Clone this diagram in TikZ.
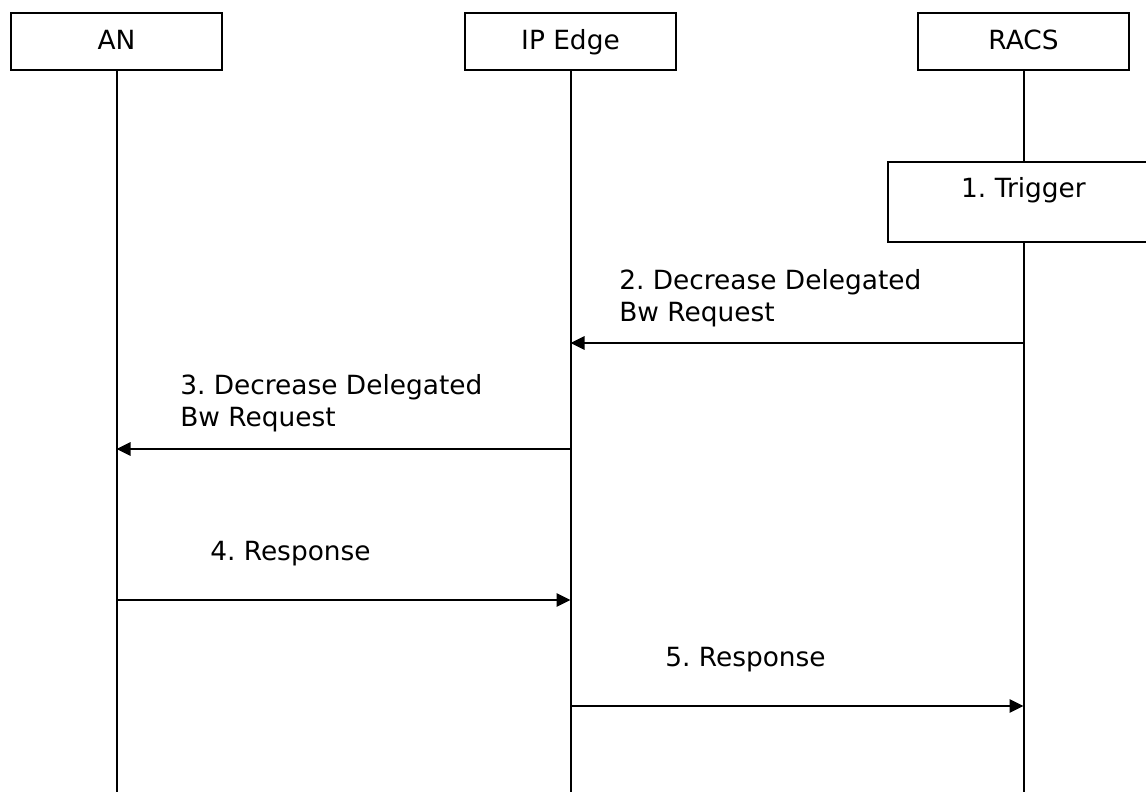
\documentclass[tikz,border=0pt]{standalone}
\usepackage{fontspec}
\setmainfont{DejaVu Sans}
\usetikzlibrary{arrows.meta}
\frenchspacing

\begin{document}
\begin{tikzpicture}[x=0.75pt,y=-0.75pt,
  every node/.style={font=\fontsize{19.8}{24}\selectfont},
  actor/.style={draw,line width=1.5pt,minimum width=158pt,minimum height=42.75pt,inner sep=0pt,text height=14.5pt,text depth=3pt},
  trigbox/.style={draw,line width=1.5pt,minimum width=204pt,inner xsep=0pt,inner ysep=12pt,text height=14.25pt,text depth=21.75pt},
  life/.style={line width=1.5pt},
  msg/.style={line width=1.5pt,-{Triangle[length=10.5pt,width=10pt]}},
  msglabel/.style={anchor=base west,align=left,inner sep=0pt}]
\clip (0,0) rectangle (1146,792);
\node[actor] (an) at (116.5,41.5) {AN};
\node[actor] (ipe) at (570.5,41.5) {IP Edge};
\node[actor] (racs) at (1023.5,41.5) {RACS};
\node[trigbox] (trigger) at (1023.5,202) {1. Trigger};
\coordinate (an-end) at (an |- 0,800);
\coordinate (ipe-end) at (ipe |- 0,800);
\coordinate (racs-end) at (racs |- 0,800);
\draw[life] (an) -- (an-end);
\draw[life] (ipe) -- (ipe-end);
\draw[life] (racs) -- (trigger);
\draw[life] (trigger) -- (racs-end);
\coordinate (m2a) at (racs |- 0,343);
\coordinate (m2b) at (ipe |- 0,343);
\coordinate (m3a) at (ipe |- 0,449);
\coordinate (m3b) at (an |- 0,449);
\coordinate (m4a) at (an |- 0,600);
\coordinate (m4b) at (ipe |- 0,600);
\coordinate (m5a) at (ipe |- 0,706);
\coordinate (m5b) at (racs |- 0,706);
\draw[msg] (m2a) -- (m2b);
\draw[msg] (m3a) -- (m3b);
\draw[msg] (m4a) -- (m4b);
\draw[msg] (m5a) -- (m5b);
\node[msglabel] (lbl2) at (619,321) {2. Decrease Delegated\\Bw Request};
\node[msglabel] (lbl3) at (180,426) {3. Decrease Delegated\\Bw Request};
\node[msglabel] (lbl4) at (210,560) {4. Response};
\node[msglabel] (lbl5) at (665,666) {5. Response};
\end{tikzpicture}
\end{document}
